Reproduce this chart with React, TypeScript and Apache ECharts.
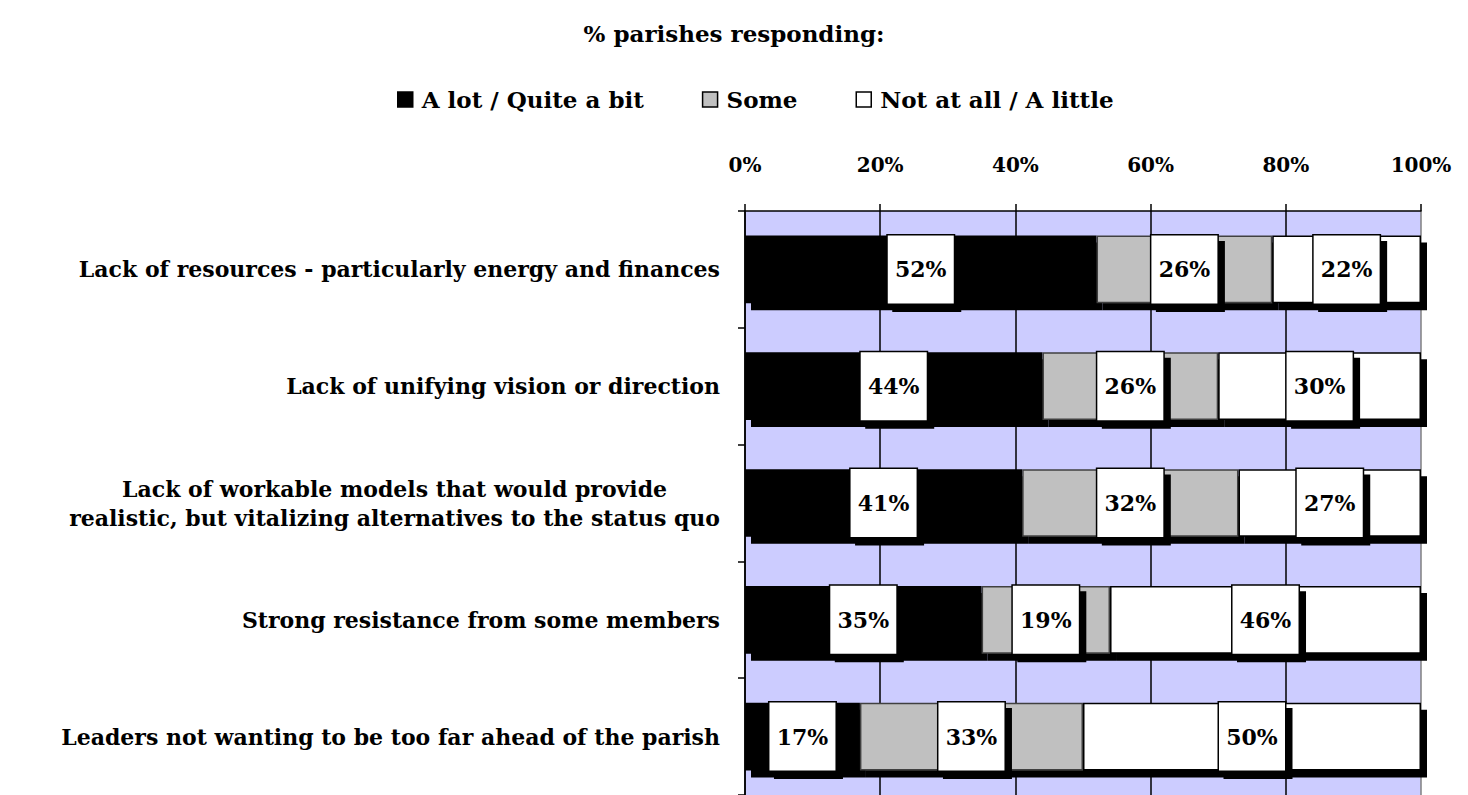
import React, { useEffect, useRef } from "react";
import * as echarts from "echarts";

const categories = [
  "Lack of resources - particularly energy and finances",
  "Lack of unifying vision or direction",
  "Lack of workable models that would provide\nrealistic, but vitalizing alternatives to the status quo",
  "Strong resistance from some members",
  "Leaders not wanting to be too far ahead of the parish",
];
const seriesNames = ["A lot / Quite a bit", "Some", "Not at all / A little"];
const aLot = [52, 44, 41, 35, 17];
const some = [26, 26, 32, 19, 33];
const notAtAll = [22, 30, 27, 46, 50];
const xTicks = [0, 20, 40, 60, 80, 100];

const FONT = "'DejaVu Serif', 'Liberation Serif', serif";

export default function App() {
  const ref = useRef<HTMLDivElement>(null);
  useEffect(() => {
    document.body.style.margin = "0";
    const chart = echarts.init(ref.current!, null, { renderer: "svg" });
    const label = {
      show: true,
      position: "inside",
      formatter: "{c}%",
      color: "#000",
      fontFamily: FONT,
      fontWeight: "bold",
      fontSize: 22,
      backgroundColor: "#fff",
      borderColor: "#000",
      borderWidth: 1.5,
      width: 66,
      height: 68,
      lineHeight: 68,
      align: "center",
      shadowColor: "#000",
      shadowBlur: 0,
      shadowOffsetX: 6,
      shadowOffsetY: 7,
    };
    const mk = (name: string, data: number[], color: string, border: string) => ({
      name,
      type: "bar",
      stack: "t",
      data,
      barWidth: "58%",
      itemStyle: {
        color,
        borderColor: border,
        borderWidth: 1.5,
        shadowColor: "#000",
        shadowBlur: 0,
        shadowOffsetX: 6,
        shadowOffsetY: 7,
      },
      label,
    });
    chart.setOption({
      animation: false,
      textStyle: { fontFamily: FONT, color: "#000" },
      title: {
        text: "% parishes responding:",
        left: "center",
        top: 17,
        textStyle: { fontFamily: FONT, fontSize: 23, fontWeight: "bold", color: "#000" },
      },
      legend: {
        data: seriesNames,
        left: 397,
        top: 88,
        itemWidth: 15,
        itemHeight: 15,
        itemGap: 58,
        padding: 0,
        icon: "rect",
        textStyle: { fontFamily: FONT, fontSize: 23, fontWeight: "bold", color: "#000", padding: [0, 0, 0, 4] },
        itemStyle: { shadowBlur: 0, shadowOffsetX: 0, shadowOffsetY: 0, shadowColor: "rgba(0,0,0,0)", borderColor: "#000", borderWidth: 1.5 },
      },
      grid: {
        left: 745,
        top: 211,
        width: 676,
        height: 587,
        show: true,
        backgroundColor: "#CCCCFF",
        borderWidth: 0,
      },
      xAxis: {
        type: "value",
        position: "top",
        min: 0,
        max: 100,
        interval: 20,
        axisLine: { show: true, lineStyle: { color: "#000", width: 1.5 } },
        axisTick: { show: true, length: 7, lineStyle: { color: "#000", width: 1.5 } },
        axisLabel: {
          margin: 36,
          formatter: (v: number) => (xTicks.includes(v) ? v + "%" : ""),
          fontFamily: FONT,
          fontSize: 20,
          fontWeight: "bold",
          color: "#000",
        },
        splitLine: {
          show: true,
          lineStyle: { color: ["#000", "#000", "#000", "#000", "#000", "#808080"], width: 1.5 },
        },
      },
      yAxis: {
        type: "category",
        inverse: true,
        data: categories,
        axisLine: { show: true, lineStyle: { color: "#000", width: 1.5 } },
        axisTick: { show: true, length: 7, lineStyle: { color: "#000", width: 1.5 } },
        axisLabel: {
          margin: 25,
          fontFamily: FONT,
          fontSize: 22,
          fontWeight: "bold",
          color: "#000",
          formatter: (v: string) =>
            v.includes("\n")
              ? v
                  .split("\n")
                  .map((s) => "{c|" + s + "}")
                  .join("\n")
              : v,
          rich: {
            c: {
              align: "center",
              fontFamily: FONT,
              fontSize: 22,
              fontWeight: "bold",
              color: "#000",
              lineHeight: 29,
            },
          },
        },
      },
      series: [
        mk(seriesNames[0], aLot, "#000", "#000"),
        mk(seriesNames[1], some, "#C0C0C0", "#404040"),
        mk(seriesNames[2], notAtAll, "#fff", "#000"),
      ],
    });
    return () => chart.dispose();
  }, []);
  return <div ref={ref} style={{ width: 1468, height: 795 }} />;
}
